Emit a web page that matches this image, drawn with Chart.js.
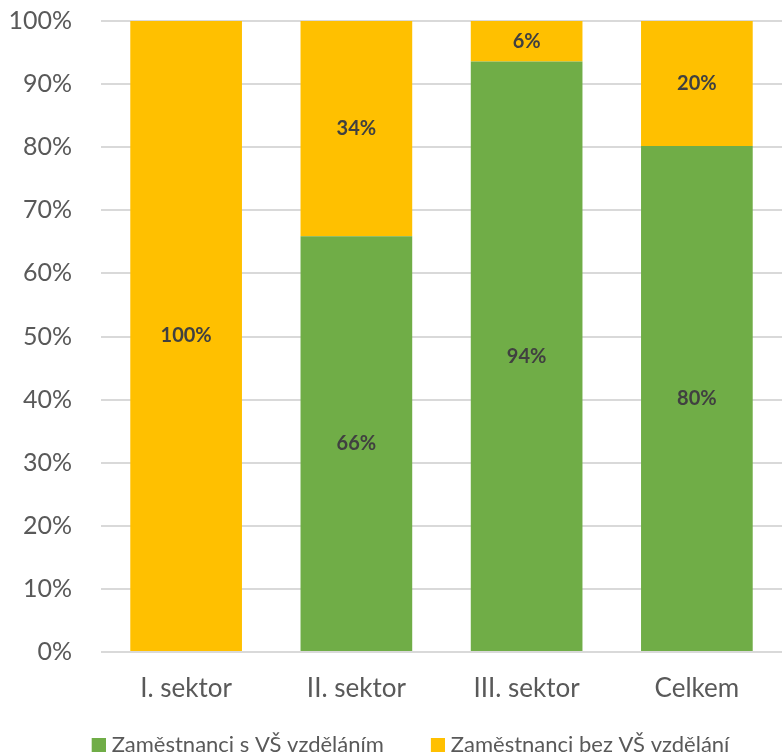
<!DOCTYPE html>
<html><head><meta charset="utf-8">
<script src="https://cdn.jsdelivr.net/npm/chart.js@4"></script>
<style>html,body{margin:0;padding:0;background:#fff}#w{width:782px;height:754px}</style>
</head><body><div id="w"><canvas id="c"></canvas></div>
<script>
const categories = ["I. sektor", "II. sektor", "III. sektor", "Celkem"];
const seriesNames = ["Zaměstnanci s VŠ vzděláním", "Zaměstnanci bez VŠ vzdělání"];
const withDegree = [0, 65.9, 93.6, 80.2];
const withoutDegree = [100, 34.1, 6.4, 19.8];
const yTicks = [0, 10, 20, 30, 40, 50, 60, 70, 80, 90, 100];

const FONT = "Lato, Carlito, Calibri, sans-serif";
const GREEN = "#70AD47", YELLOW = "#FFC000";
const LEG_SLOT = 48;

// legend marker: square placed at the right end of a wider transparent canvas
function marker(color) {
  const c = document.createElement('canvas');
  c.width = LEG_SLOT + 10; c.height = 14;
  const g = c.getContext('2d');
  g.fillStyle = color;
  g.fillRect(c.width - 14, 0, 14, 14);
  return c;
}

const labelPlugin = {
  id: 'barLabels',
  afterDatasetsDraw(chart) {
    const ctx = chart.ctx;
    ctx.save();
    ctx.font = "bold 20px " + FONT;
    ctx.fillStyle = "#404040";
    ctx.textAlign = "center";
    ctx.textBaseline = "middle";
    chart.data.datasets.forEach((ds, di) => {
      const meta = chart.getDatasetMeta(di);
      meta.data.forEach((bar, i) => {
        const v = ds.data[i];
        if (!v) return;
        const p = bar.getProps(['x', 'y', 'base'], true);
        ctx.fillText(Math.round(v) + "%", p.x, (p.y + p.base) / 2);
      });
    });
    ctx.restore();
  }
};

new Chart(document.getElementById('c'), {
  type: 'bar',
  data: {
    labels: categories,
    datasets: [
      { label: seriesNames[0], data: withDegree, backgroundColor: GREEN, pointStyle: marker(GREEN), barPercentage: 0.656, categoryPercentage: 1 },
      { label: seriesNames[1], data: withoutDegree, backgroundColor: YELLOW, pointStyle: marker(YELLOW), barPercentage: 0.656, categoryPercentage: 1 }
    ]
  },
  options: {
    responsive: true,
    maintainAspectRatio: false,
    animation: false,
    layout: { padding: { top: 21, right: 0, left: 0, bottom: -12 } },
    plugins: {
      tooltip: { enabled: false },
      legend: {
        position: 'bottom',
        labels: {
          font: { family: FONT, size: 22 },
          color: "#595959",
          usePointStyle: true,
          pointStyleWidth: LEG_SLOT,
          boxHeight: 14,
          padding: 8
        }
      }
    },
    scales: {
      x: {
        stacked: true,
        afterFit(scale) { scale.height = 74; },
        grid: { display: false },
        border: { display: false },
        ticks: { font: { family: FONT, size: 26 }, color: "#595959", padding: 13, maxRotation: 0 }
      },
      y: {
        stacked: true,
        min: 0, max: 100,
        afterFit(scale) { scale.width = 101; scale.paddingTop = 0; scale.paddingBottom = 0; },
        afterBuildTicks(scale) { scale.ticks = yTicks.map(v => ({ value: v })); },
        grid: { color: "#D9D9D9", lineWidth: 2, drawTicks: false },
        border: { display: false },
        ticks: { font: { family: FONT, size: 25 }, color: "#595959", padding: 29, callback: v => v + "%" }
      }
    }
  },
  plugins: [labelPlugin]
});
</script>
</body></html>
